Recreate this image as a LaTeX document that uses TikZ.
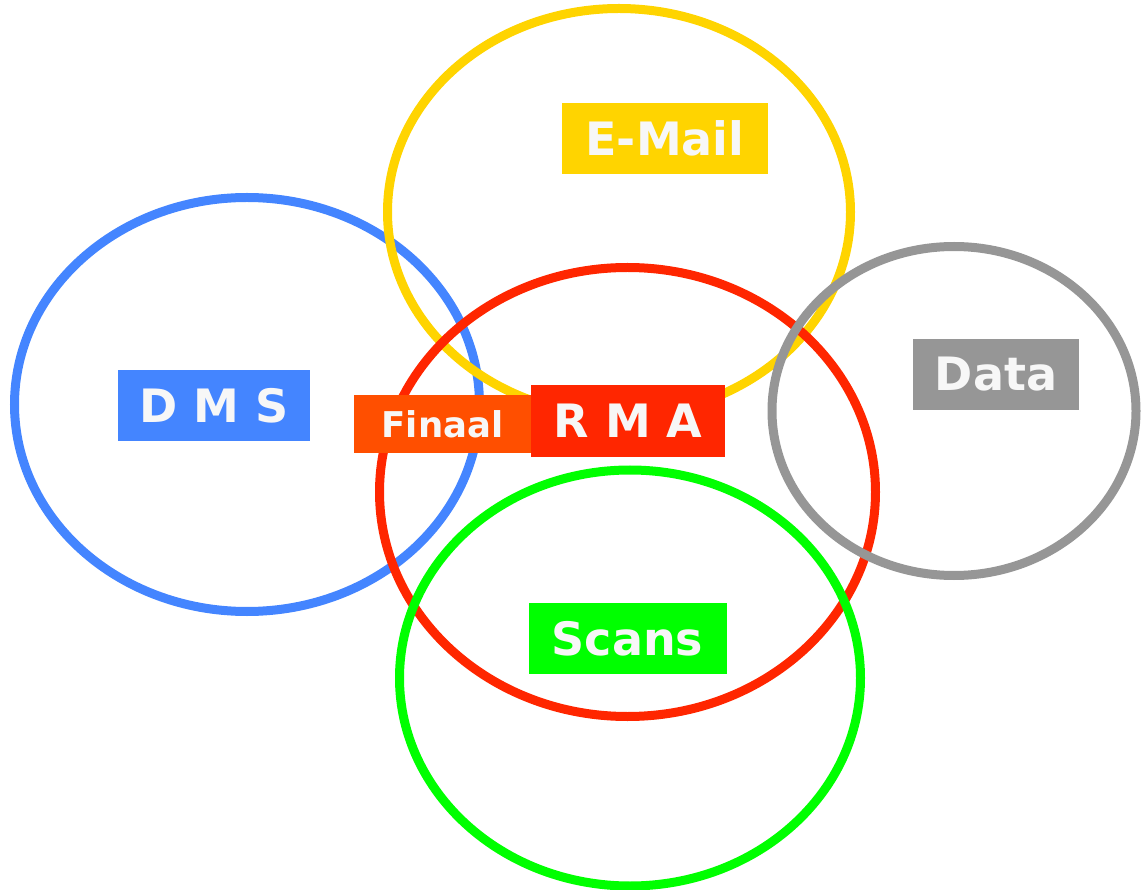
\documentclass[tikz,border=0pt]{standalone}
\usepackage{fontspec}
\setmainfont{DejaVu Sans}
\definecolor{cblue}{HTML}{4485FF}
\definecolor{cyellow}{HTML}{FFD400}
\definecolor{cred}{HTML}{FF2600}
\definecolor{cgray}{HTML}{969696}
\definecolor{cgreen}{HTML}{00FF00}
\definecolor{corange}{HTML}{FF4F00}
\definecolor{ctext}{HTML}{F7F7F7}
\begin{document}
\begin{tikzpicture}[x=1pt,y=-1pt,
  ring/.style={line width=9pt},
  tag/.style={inner sep=0pt, minimum height=71pt, text=ctext,
    font=\fontsize{46}{46}\selectfont\bfseries}]
\useasboundingbox (0,0) rectangle (1141,890);
% sets
\draw[ring, cblue]   (247,404.5) ellipse [x radius=232.5pt, y radius=207pt];
\draw[ring, cyellow] (619,212)   ellipse [x radius=231.5pt, y radius=203.5pt];
\draw[ring, cred]    (627.5,492) ellipse [x radius=248pt, y radius=224.5pt];
\draw[ring, cgreen]  (630,678)   ellipse [x radius=230.5pt, y radius=208pt];
\draw[ring, cgray]   (954,411)   ellipse [x radius=182pt, y radius=164.5pt];
% labels
\node[tag, fill=cyellow, minimum width=206pt] (email) at (665,138.5) {E-Mail};
\node[tag, fill=cblue,   minimum width=192pt] (dms)   at (214,405.5) {D M S};
\node[tag, fill=cgray,   minimum width=166pt] (data)  at (996,374.5) {Data};
\node[tag, fill=corange, minimum width=177pt, minimum height=58pt,
      font=\fontsize{35.5}{35.5}\selectfont\bfseries] (finaal) at (442.5,424) {Finaal\hspace{17pt}};
\node[tag, fill=cred,    minimum width=194pt, minimum height=72pt] (rma) at (628,421) {R M A};
\node[tag, fill=cgreen,  minimum width=198pt] (scans) at (627.5,638.5) {Scans};
\end{tikzpicture}
\end{document}
